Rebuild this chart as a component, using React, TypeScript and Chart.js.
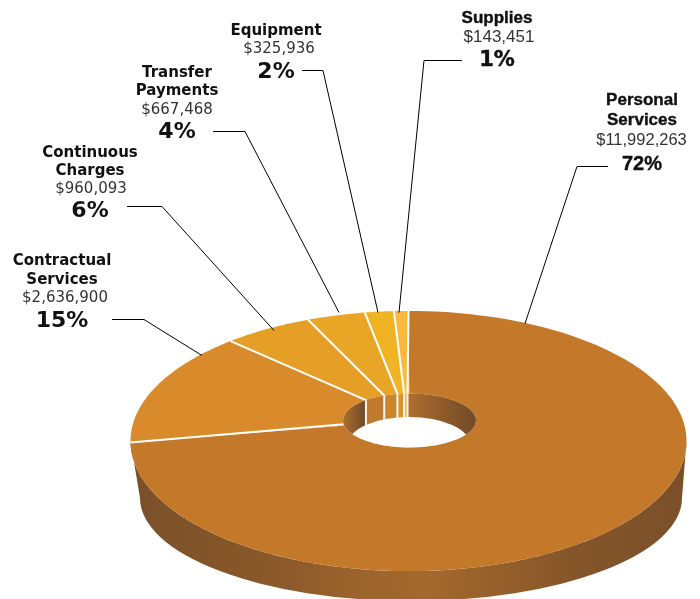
import React, { useEffect, useRef } from "react";
import { Chart, registerables } from "chart.js";

Chart.register(...registerables);

const categories = [
  "Personal Services",
  "Contractual Services",
  "Continuous Charges",
  "Transfer Payments",
  "Equipment",
  "Supplies",
];
const percents = [72, 15, 6, 4, 2, 1];
const amountLabels = ["$11,992,263", "$2,636,900", "$960,093", "$667,468", "$325,936", "$143,451"];
const percentLabels = ["72%", "15%", "6%", "4%", "2%", "1%"];
const sliceColors = ["#C47829", "#D98B2B", "#E59F27", "#E8A526", "#F0B323", "#FAB93C"];
const innerWallColors = ["#B06E2E", "#A96E30", "#C07A2E", "#CC852C", "#DA932B", "#EEB023"];

const DEJAVU = '"DejaVu Sans"';
const LIBERATION = '"Liberation Sans"';
type LabelBox = {
  x: number;
  amountX: number;
  nameY: number[];
  amountY: number;
  pctY: number;
  nameFont: string;
  amountFont: string;
  pctFont: string;
  heavy: boolean;
  lines: string[];
  leader: number[][];
};
const labelBoxes: LabelBox[] = [
  { x: 642, amountX: 641.5, nameY: [105, 125], amountY: 145, pctY: 170, nameFont: `bold 17px ${LIBERATION}`, amountFont: `16.5px ${LIBERATION}`, pctFont: `bold 20px ${LIBERATION}`, heavy: true, lines: ["Personal", "Services"], leader: [[608, 166], [577, 166], [525, 323]] },
  { x: 62, amountX: 65, nameY: [265, 284], amountY: 302, pctY: 327, nameFont: `bold 15px ${DEJAVU}`, amountFont: `15px ${DEJAVU}`, pctFont: `bold 22px ${DEJAVU}`, heavy: false, lines: ["Contractual", "Services"], leader: [[112, 319], [144, 319], [202, 355]] },
  { x: 90, amountX: 91, nameY: [157, 175], amountY: 193, pctY: 217, nameFont: `bold 15px ${DEJAVU}`, amountFont: `15px ${DEJAVU}`, pctFont: `bold 22px ${DEJAVU}`, heavy: false, lines: ["Continuous", "Charges"], leader: [[127, 206], [162, 206], [274, 330]] },
  { x: 177, amountX: 177, nameY: [77, 95], amountY: 114, pctY: 138, nameFont: `bold 15px ${DEJAVU}`, amountFont: `15px ${DEJAVU}`, pctFont: `bold 22px ${DEJAVU}`, heavy: false, lines: ["Transfer", "Payments"], leader: [[213, 131], [245, 131], [339, 312]] },
  { x: 276, amountX: 279, nameY: [35], amountY: 53, pctY: 78, nameFont: `bold 15px ${DEJAVU}`, amountFont: `15px ${DEJAVU}`, pctFont: `bold 22px ${DEJAVU}`, heavy: false, lines: ["Equipment"], leader: [[302, 70], [323, 70], [378, 312]] },
  { x: 497, amountX: 499, nameY: [23], amountY: 42, pctY: 66, nameFont: `bold 17px ${LIBERATION}`, amountFont: `17px ${LIBERATION}`, pctFont: `bold 21px ${DEJAVU}`, heavy: true, lines: ["Supplies"], leader: [[462, 60], [424, 60], [399, 312]] },
];

// Perspective view of the disc
const VIEW = { cy: 418, radiusX: 273.6, radiusY: 126, persp: 0.177 };
const HOLE = { cx: 409.5, cy: 420.5, rx: 66.5, ry: 27, taper: 0.19, skew: 2 };
const FLOOR = { cx: 409, cy: 444, rx: 61, ry: 27 };
const BASE = { cx: 411, cy: 498, rx: 271, ry: 103 };
const OUTER_WALL_STOPS: [number, string][] = [
  [131, "#7A4F29"],
  [290, "#8C5A2A"],
  [360, "#9C642C"],
  [430, "#A3682D"],
  [500, "#955F2B"],
  [580, "#84552A"],
  [687, "#7A4F29"],
];

const projector = (cx: number) => (a: number): [number, number] => {
  const u = Math.cos(a);
  const v = Math.sin(a);
  const f = 1 / (1 - VIEW.persp * v);
  return [cx + VIEW.radiusX * u * f, VIEW.cy + VIEW.radiusY * v * f];
};
const rimPoint = (a: number): [number, number] => {
  const u = Math.cos(a);
  const v = Math.sin(a);
  const dx = HOLE.rx * u * (1 + HOLE.taper * v) + HOLE.skew * v;
  const t = Math.max(-0.99, Math.min(0.99, dx / HOLE.rx));
  const dy = HOLE.ry * Math.sqrt(1 - t * t) * (v < 0 ? -1 : 1);
  return [HOLE.cx + t * HOLE.rx, HOLE.cy + dy];
};

const disc3d = {
  id: "disc3d",
  beforeDatasetDraw(chart: any) {
    const ctx: CanvasRenderingContext2D = chart.ctx;
    const arcs = chart.getDatasetMeta(0).data as any[];
    const cx = arcs[0].x;
    const P = projector(cx);
    const TAU = Math.PI * 2;
    const extremeV = Math.asin(VIEW.persp);

    ctx.save();

    // outer wall
    const wall = ctx.createLinearGradient(131, 0, 687, 0);
    OUTER_WALL_STOPS.forEach(([x, c]) => wall.addColorStop((x - 131) / 556, c));
    ctx.beginPath();
    const n = 200;
    for (let i = 0; i <= n; i++) {
      const a = Math.PI - extremeV + ((-Math.PI + 2 * extremeV) * i) / n;
      const [x, y] = P(a);
      if (i === 0) ctx.moveTo(x, y);
      else ctx.lineTo(x, y);
    }
    ctx.lineTo(BASE.cx + BASE.rx, BASE.cy);
    ctx.ellipse(BASE.cx, BASE.cy, BASE.rx, BASE.ry, 0, 0, Math.PI);
    ctx.closePath();
    ctx.fillStyle = wall;
    ctx.fill();

    // top face
    arcs.forEach((arc, i) => {
      const steps = Math.max(8, Math.ceil(((arc.endAngle - arc.startAngle) / TAU) * 360));
      ctx.beginPath();
      for (let s = 0; s <= steps; s++) {
        const [x, y] = P(arc.startAngle + ((arc.endAngle - arc.startAngle) * s) / steps);
        if (s === 0) ctx.moveTo(x, y);
        else ctx.lineTo(x, y);
      }
      ctx.lineTo(HOLE.cx, HOLE.cy);
      ctx.closePath();
      ctx.fillStyle = sliceColors[i];
      ctx.fill();
    });

    // separators on the top face
    ctx.strokeStyle = "#FFFFFF";
    ctx.lineWidth = 2;
    arcs.forEach((arc) => {
      const [ox, oy] = P(arc.startAngle);
      const [ix, iy] = rimPoint(arc.startAngle);
      ctx.beginPath();
      ctx.moveTo(ox, oy);
      ctx.lineTo(ix, iy);
      ctx.stroke();
    });

    // hole
    ctx.save();
    ctx.beginPath();
    ctx.ellipse(HOLE.cx, HOLE.cy, HOLE.rx, HOLE.ry, 0, 0, TAU);
    ctx.clip();
    const left = HOLE.cx - HOLE.rx;
    const right = HOLE.cx + HOLE.rx;
    ctx.fillStyle = "#FFFFFF";
    ctx.fillRect(left - 1, HOLE.cy - HOLE.ry - 1, HOLE.rx * 2 + 2, HOLE.ry * 2 + 2);
    arcs.forEach((arc, i) => {
      let x0 = rimPoint(arc.startAngle)[0];
      const x1 = i === 0 ? right : rimPoint(arc.endAngle)[0];
      if (i === 1) x0 = left;
      const g = ctx.createLinearGradient(x0, 0, x1, 0);
      g.addColorStop(0, innerWallColors[i]);
      g.addColorStop(1, i < 2 ? "#704A27" : innerWallColors[i]);
      ctx.fillStyle = g;
      ctx.fillRect(x0, HOLE.cy - HOLE.ry - 1, x1 - x0, HOLE.ry * 2 + 2);
    });
    ctx.strokeStyle = "#FBF6F0";
    ctx.lineWidth = 2;
    arcs.forEach((arc, i) => {
      if (i === 1) return;
      const x = rimPoint(arc.startAngle)[0];
      ctx.beginPath();
      ctx.moveTo(x, HOLE.cy - HOLE.ry - 1);
      ctx.lineTo(x, FLOOR.cy);
      ctx.stroke();
    });
    ctx.fillStyle = "#FFFFFF";
    ctx.beginPath();
    ctx.ellipse(FLOOR.cx, FLOOR.cy, FLOOR.rx, FLOOR.ry, 0, 0, TAU);
    ctx.fill();
    ctx.restore();

    ctx.restore();
    return false;
  },
  afterDraw(chart: any) {
    const ctx: CanvasRenderingContext2D = chart.ctx;
    ctx.save();
    labelBoxes.forEach((b, i) => {
      ctx.textAlign = "center";
      ctx.textBaseline = "alphabetic";
      ctx.fillStyle = "#111111";
      ctx.strokeStyle = "#111111";
      ctx.lineWidth = 0.4;
      ctx.font = b.nameFont;
      b.lines.forEach((t, k) => {
        ctx.fillText(t, b.x, b.nameY[k]);
        if (b.heavy) ctx.strokeText(t, b.x, b.nameY[k]);
      });
      ctx.fillStyle = "#333333";
      ctx.font = b.amountFont;
      ctx.fillText(amountLabels[i], b.amountX, b.amountY);
      ctx.fillStyle = "#111111";
      ctx.font = b.pctFont;
      ctx.fillText(percentLabels[i], b.x, b.pctY);
      if (b.heavy) ctx.strokeText(percentLabels[i], b.x, b.pctY);
      ctx.strokeStyle = "#000000";
      ctx.lineWidth = 1;
      ctx.beginPath();
      b.leader.forEach(([x, y], k) => {
        if (k === 0) ctx.moveTo(x, y + 0.5);
        else ctx.lineTo(x, y + 0.5);
      });
      ctx.stroke();
    });
    ctx.restore();
  },
};

export default function App() {
  const ref = useRef<HTMLCanvasElement>(null);
  useEffect(() => {
    const chart = new Chart(ref.current as HTMLCanvasElement, {
      type: "doughnut",
      data: {
        labels: categories,
        datasets: [{ data: percents, backgroundColor: sliceColors, borderWidth: 0 }],
      },
      options: {
        animation: false,
        responsive: false,
        cutout: "24%",
        layout: { padding: { left: 117 } },
        plugins: { legend: { display: false }, tooltip: { enabled: false } },
      },
      plugins: [disc3d],
    } as any);
    return () => chart.destroy();
  }, []);
  return (
    <canvas
      ref={ref}
      width={700}
      height={599}
      style={{ position: "absolute", left: 0, top: 0, display: "block" }}
    />
  );
}
